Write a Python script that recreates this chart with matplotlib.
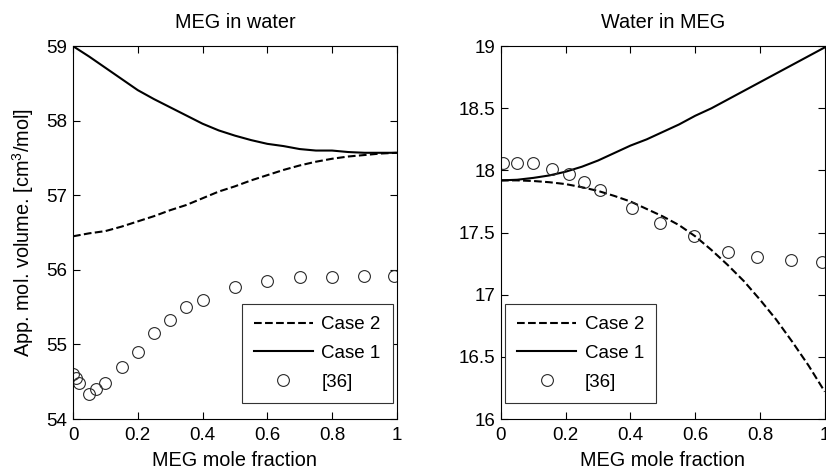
import matplotlib
matplotlib.use("Agg")
import matplotlib.pyplot as plt
import numpy as np

plt.rcParams['font.family'] = ['Liberation Sans', 'DejaVu Sans']
plt.rcParams['mathtext.fontset'] = 'custom'
plt.rcParams['mathtext.rm'] = 'Liberation Sans'

x_line = [0.0, 0.05, 0.1, 0.15, 0.2, 0.25, 0.3, 0.35, 0.4, 0.45, 0.5,
          0.55, 0.6, 0.65, 0.7, 0.75, 0.8, 0.85, 0.9, 0.95, 1.0]

# MEG in water
case1_a = [59.0, 58.86, 58.71, 58.56, 58.41, 58.29, 58.18, 58.07, 57.96, 57.87, 57.8,
           57.74, 57.69, 57.66, 57.62, 57.6, 57.6, 57.58, 57.57, 57.57, 57.57]
case2_a = [56.45, 56.49, 56.52, 56.58, 56.65, 56.72, 56.8, 56.87, 56.96, 57.05, 57.12,
           57.2, 57.27, 57.34, 57.4, 57.45, 57.49, 57.52, 57.54, 57.56, 57.57]
x_exp_a = [0.0, 0.01, 0.02, 0.05, 0.07, 0.1, 0.15, 0.2, 0.25, 0.3, 0.35, 0.4,
           0.5, 0.6, 0.7, 0.8, 0.9, 0.99]
exp_a = [54.6, 54.55, 54.48, 54.34, 54.4, 54.48, 54.7, 54.9, 55.15, 55.33, 55.5, 55.6,
         55.77, 55.85, 55.9, 55.9, 55.92, 55.92]

# Water in MEG
case1_b = [17.92, 17.925, 17.94, 17.96, 17.99, 18.03, 18.08, 18.14, 18.2, 18.25, 18.31,
           18.37, 18.44, 18.5, 18.57, 18.64, 18.71, 18.78, 18.85, 18.92, 18.99]
case2_b = [17.92, 17.92, 17.915, 17.905, 17.89, 17.865, 17.835, 17.795, 17.75, 17.69, 17.63,
           17.56, 17.47, 17.36, 17.24, 17.11, 16.96, 16.8, 16.62, 16.43, 16.22]
x_exp_b = [0.005, 0.05, 0.1, 0.157, 0.21, 0.255, 0.306, 0.404, 0.49, 0.596, 0.70,
           0.79, 0.895, 0.99]
exp_b = [18.06, 18.06, 18.06, 18.01, 17.97, 17.91, 17.84, 17.70, 17.58, 17.47, 17.34,
         17.30, 17.28, 17.26]

fs = 13.5   # ticks and legend
lfs = 14.3  # titles and axis labels
fig = plt.figure(figsize=(8.26, 4.69), dpi=100)
ax1 = fig.add_axes([0.0884, 0.1066, 0.392, 0.795])
ax2 = fig.add_axes([0.6065, 0.1066, 0.392, 0.795])

def draw(ax, c2, c1, xe, e, loc, anchor):
  ax.plot(x_line, c2, '--', color='k', lw=1.5, label="Case 2")
  ax.plot(x_line, c1, '-', color='k', lw=1.5, label="Case 1")
  ax.plot(xe, e, 'o', ls='none', mfc='none', mec='#2a2a2a', mew=0.8, ms=8.5, label="[36]")
  ax.set_xlim(0, 1)
  ax.set_xticks([0, 0.2, 0.4, 0.6, 0.8, 1])
  ax.set_xticklabels(['0', '0.2', '0.4', '0.6', '0.8', '1'])
  ax.tick_params(direction='in', top=True, right=True, labelsize=fs, length=5,
                 width=0.8)
  ax.tick_params(axis='x', pad=5.5)
  ax.tick_params(axis='y', pad=4)
  ax.set_xlabel("MEG mole fraction", fontsize=lfs, labelpad=5)
  for s in ax.spines.values():
    s.set_linewidth(0.8)
  leg = ax.legend(loc=loc, bbox_to_anchor=anchor, borderaxespad=0, fontsize=fs,
                  handlelength=3.15, handletextpad=0.45, fancybox=False,
                  edgecolor='#333333', framealpha=1, borderpad=0.65, labelspacing=0.62)
  leg.get_frame().set_linewidth(0.8)

draw(ax1, case2_a, case1_a, x_exp_a, exp_a, 'lower right', (0.988, 0.043))
ax1.set_ylim(54, 59)
ax1.set_title("MEG in water", fontsize=lfs, pad=13)
ax1.set_ylabel("App. mol. volume. [cm$^3$/mol]", fontsize=lfs, labelpad=7.5)

draw(ax2, case2_b, case1_b, x_exp_b, exp_b, 'lower left', (0.012, 0.043))
ax2.set_ylim(16, 19)
ax2.set_yticks([16, 16.5, 17, 17.5, 18, 18.5, 19])
ax2.set_yticklabels(['16', '16.5', '17', '17.5', '18', '18.5', '19'])
ax2.set_title("Water in MEG", fontsize=lfs, pad=13)

fig.savefig("out.png", dpi=100)
